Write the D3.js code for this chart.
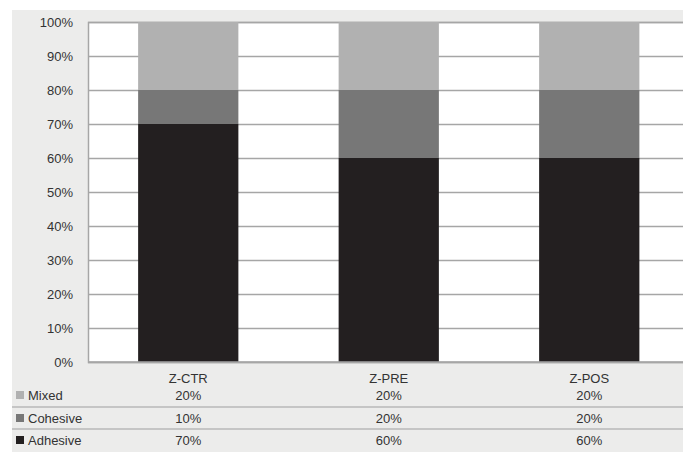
<!DOCTYPE html>
<html><head><meta charset="utf-8">
<script src="https://cdn.jsdelivr.net/npm/d3@7"></script>
<style>html,body{margin:0;padding:0;background:#fff;}svg{display:block;}</style>
</head><body>
<script>
const categories = ["Z-CTR", "Z-PRE", "Z-POS"];
const seriesNames = ["Mixed", "Cohesive", "Adhesive"];
const mixed = [20, 20, 20];
const cohesive = [10, 20, 20];
const adhesive = [70, 60, 60];
const yTicks = [0, 10, 20, 30, 40, 50, 60, 70, 80, 90, 100];
const colors = {Mixed: "#b1b1b1", Cohesive: "#777777", Adhesive: "#231f20"};

const W = 683, H = 453;
const svg = d3.select("body").append("svg").attr("width", W).attr("height", H);
svg.append("rect").attr("x", 12).attr("y", 10).attr("width", W - 12).attr("height", 442).attr("fill", "#ececeb");

const mLeft = 88, mTop = 22, mBottom = 362;
const x = d3.scaleBand().domain(categories).range([mLeft, mLeft + 3 * 200.5]).paddingInner(0.5).paddingOuter(0.25);
const y = d3.scaleLinear().domain([0, 100]).range([mBottom, mTop]);

svg.append("rect").attr("x", mLeft).attr("y", mTop).attr("width", W - mLeft).attr("height", mBottom - mTop).attr("fill", "#ffffff");

const font = "Liberation Sans, Arial, sans-serif";
const gAxis = svg.append("g").attr("transform", `translate(${mLeft},0)`)
  .call(d3.axisLeft(y).tickValues(yTicks).tickFormat(d => d + "%").tickSize(-(W - mLeft)).tickPadding(15));
gAxis.select(".domain").attr("stroke", "#a6a6a6").attr("stroke-width", 1.5);
gAxis.selectAll(".tick line").attr("stroke", "#a6a6a6").attr("stroke-width", 1.5);
gAxis.selectAll(".tick text").attr("font-family", font).attr("font-size", 13).attr("fill", "#333");

const rows = categories.map((c, i) => ({cat: c, Adhesive: adhesive[i], Cohesive: cohesive[i], Mixed: mixed[i]}));
const stack = d3.stack().keys(["Adhesive", "Cohesive", "Mixed"])(rows);
svg.append("g").selectAll("g").data(stack).join("g").attr("fill", d => colors[d.key])
  .selectAll("rect").data(d => d).join("rect")
  .attr("x", d => x(d.data.cat)).attr("width", x.bandwidth())
  .attr("y", d => y(d[1])).attr("height", d => y(d[0]) - y(d[1]));

svg.append("line").attr("x1", mLeft).attr("x2", W).attr("y1", mBottom).attr("y2", mBottom).attr("stroke", "#a6a6a6").attr("stroke-width", 1.5);

svg.append("g").selectAll("text").data(categories).join("text")
  .attr("x", d => x(d) + x.bandwidth() / 2).attr("y", 378).attr("dy", "0.35em")
  .attr("text-anchor", "middle").attr("font-family", font).attr("font-size", 13).attr("fill", "#333").text(d => d);

const tableVals = {Mixed: mixed, Cohesive: cohesive, Adhesive: adhesive};
const rowY = [395, 418, 440];
[407, 429].forEach(yy => svg.append("line").attr("x1", 12).attr("x2", W).attr("y1", yy).attr("y2", yy).attr("stroke", "#b8b8b8").attr("stroke-width", 1.5));
seriesNames.forEach((s, i) => {
  svg.append("rect").attr("x", 16).attr("y", rowY[i] - 4).attr("width", 8).attr("height", 8).attr("fill", colors[s]);
  svg.append("text").attr("x", 28).attr("y", rowY[i]).attr("dy", "0.35em").attr("font-family", font).attr("font-size", 13).attr("fill", "#333").text(s);
  svg.append("g").selectAll("text").data(tableVals[s]).join("text")
    .attr("x", (d, j) => x(categories[j]) + x.bandwidth() / 2).attr("y", rowY[i]).attr("dy", "0.35em")
    .attr("text-anchor", "middle").attr("font-family", font).attr("font-size", 13).attr("fill", "#333").text(d => d + "%");
});
</script>
</body></html>
